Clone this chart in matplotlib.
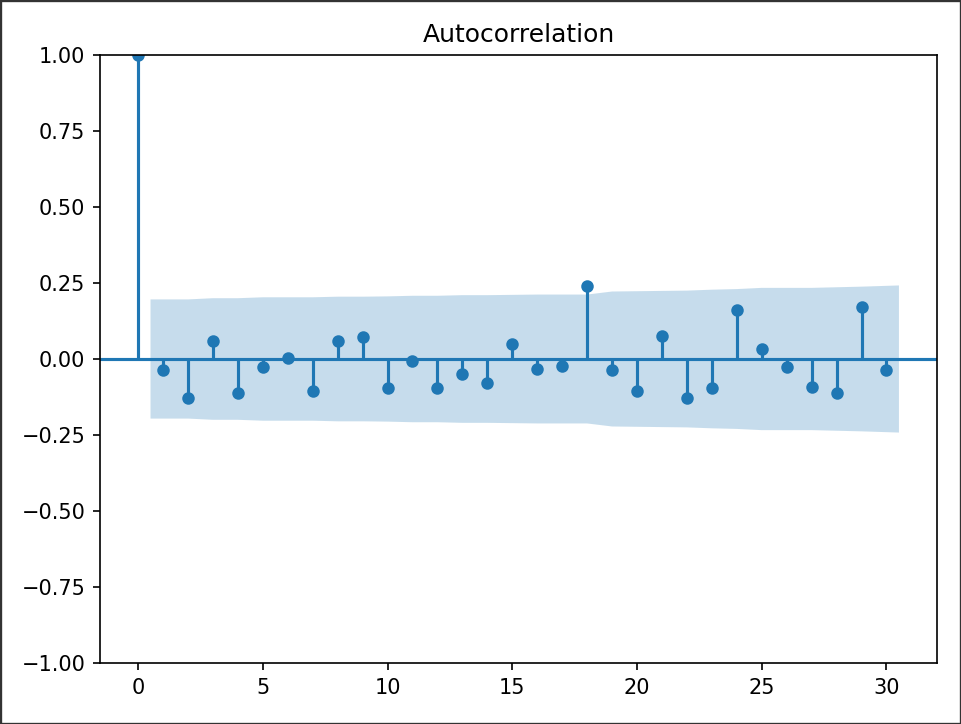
import matplotlib
matplotlib.use("Agg")
import matplotlib.pyplot as plt
import numpy as np
from matplotlib.patches import Rectangle

lags = list(range(0, 31))
acf_values = [1.0, -0.036, -0.129, 0.059, -0.111, -0.027, 0.004, -0.104, 0.059, 0.073,
              -0.096, -0.005, -0.096, -0.050, -0.080, 0.048, -0.033, -0.023, 0.241, -0.036,
              -0.105, 0.077, -0.129, -0.094, 0.161, 0.033, -0.027, -0.091, -0.111, 0.172,
              -0.036]
# half-width of the confidence band for lags 1..30
band_halfwidth = [0.196, 0.196, 0.200, 0.200, 0.203, 0.203, 0.203, 0.205, 0.205, 0.206,
                  0.208, 0.208, 0.210, 0.210, 0.211, 0.212, 0.212, 0.212, 0.222, 0.223,
                  0.224, 0.225, 0.228, 0.230, 0.234, 0.234, 0.234, 0.236, 0.238, 0.242]
title = "Autocorrelation"

fig = plt.figure(figsize=(961 / 150, 724 / 150), dpi=150)
ax = fig.add_axes([100 / 961, 61 / 724, 837 / 961, 608 / 724])

x = np.array(lags, dtype=float)
y = np.array(acf_values)
ax.vlines(x, [0], y)
ax.axhline(0)
ax.margins(0.05)
ax.plot(x, y, marker="o", markersize=5, linestyle="None")
ax.set_title(title)
ax.set_ylim(-1, 1)

bx = x[1:].copy()
bx[0] -= 0.5
bx[-1] += 0.5
hw = np.array(band_halfwidth)
ax.fill_between(bx, -hw, hw, alpha=0.25, linewidth=0)

fig.patches.append(Rectangle((0, 0), 1, 1, transform=fig.transFigure, fill=False,
                             edgecolor="#333333", linewidth=1.6, zorder=10))

fig.savefig("out.png", dpi=150)
